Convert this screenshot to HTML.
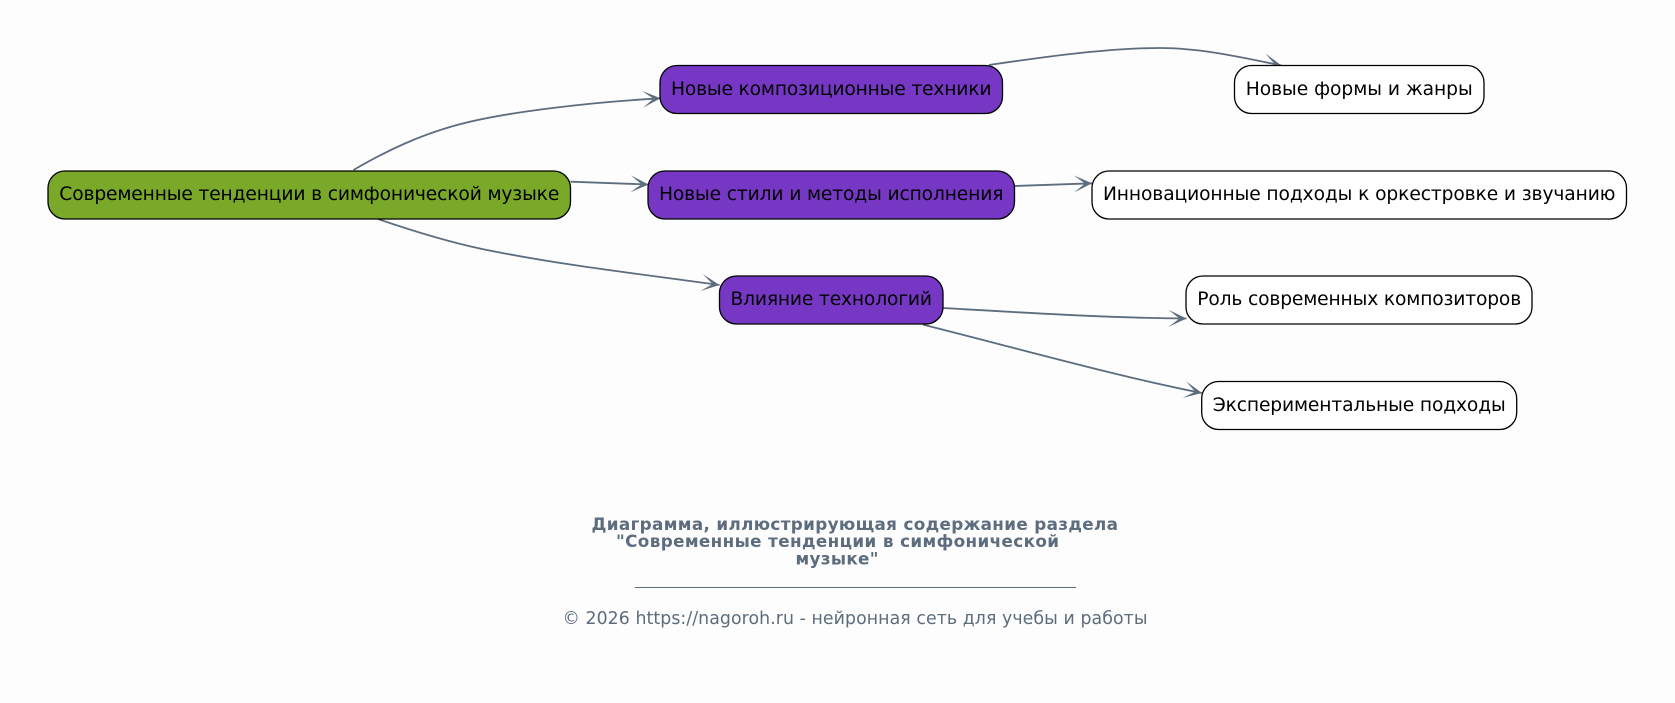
<!DOCTYPE html>
<html lang="ru">
<head>
<meta charset="utf-8">
<title>Современные тенденции в симфонической музыке</title>
<style>
html,body{margin:0;padding:0;background:#fdfdfd;width:1675px;height:703px;overflow:hidden}
svg{display:block}
text{font-family:"DejaVu Sans","Liberation Sans",sans-serif}
.n{font-size:18.67px;fill:#000;text-anchor:middle}
.e{fill:none;stroke:#5d6d7e;stroke-width:1.8}
.t{font-size:16.8px;font-weight:bold;fill:#5d6d7e}
.f{font-size:17.33px;fill:#5d6d7e}
</style>
</head>
<body>
<svg width="1675" height="703" viewBox="0 0 1675 703" xmlns="http://www.w3.org/2000/svg">
<defs>
<marker id="v" markerUnits="userSpaceOnUse" markerWidth="22" markerHeight="20" refX="18" refY="9" orient="auto">
<path d="M0 0.5 L18 9 L0 17.5 L11 9 Z" fill="#5d6d7e"/>
</marker>
</defs>
<rect width="1675" height="703" fill="#fdfdfd"/>

<path class="e" marker-end="url(#v)" d="M353.5 170 C388 150 420 135 457 125 C500 113 585 102.500 660.500 98.3"/>
<path class="e" marker-end="url(#v)" d="M570.5 181.700 L648.500 184.500"/>
<path class="e" marker-end="url(#v)" d="M378 219 C410 230 445 241 482 249 C560 265 640 274 719.500 285"/>
<path class="e" marker-end="url(#v)" d="M989 65 C1050 56 1110 48 1160 48 C1200 48 1240 57 1281.500 65.500"/>
<path class="e" marker-end="url(#v)" d="M1014.600 186 L1092 183.300"/>
<path class="e" marker-end="url(#v)" d="M943 308 C1030 313 1110 318 1186.500 318.500"/>
<path class="e" marker-end="url(#v)" d="M923 324.600 C1020 349 1120 377 1202 393"/>

<rect x="48" y="171" width="522.5" height="48" rx="17" fill="#7aa829" stroke="#000" stroke-width="1.3"/>
<text class="n" x="309.3" y="200" textLength="500">Современные тенденции в симфонической музыке</text>

<rect x="660" y="65.5" width="342.5" height="48" rx="17" fill="#7638c4" stroke="#000" stroke-width="1.3"/>
<text class="n" x="831.2" y="95" textLength="320.5">Новые композиционные техники</text>

<rect x="648" y="171" width="366.5" height="48" rx="17" fill="#7638c4" stroke="#000" stroke-width="1.3"/>
<text class="n" x="831.2" y="200" textLength="344.5">Новые стили и методы исполнения</text>

<rect x="719.5" y="276" width="223.5" height="48" rx="17" fill="#7638c4" stroke="#000" stroke-width="1.3"/>
<text class="n" x="831.2" y="305" textLength="201.5">Влияние технологий</text>

<rect x="1234.5" y="65.5" width="249.5" height="48" rx="17" fill="#fff" stroke="#000" stroke-width="1.3"/>
<text class="n" x="1359.2" y="95" textLength="227">Новые формы и жанры</text>

<rect x="1092" y="171" width="534.5" height="48" rx="17" fill="#fff" stroke="#000" stroke-width="1.3"/>
<text class="n" x="1359.2" y="200" textLength="512.5">Инновационные подходы к оркестровке и звучанию</text>

<rect x="1186" y="276" width="346" height="48" rx="17" fill="#fff" stroke="#000" stroke-width="1.3"/>
<text class="n" x="1359.2" y="305" textLength="324">Роль современных композиторов</text>

<rect x="1201.7" y="381.5" width="315" height="48" rx="17" fill="#fff" stroke="#000" stroke-width="1.3"/>
<text class="n" x="1359.2" y="411" textLength="293">Экспериментальные подходы</text>

<text class="t" x="591.5" y="530.2" textLength="526.5">Диаграмма, иллюстрирующая содержание раздела</text>
<text class="t" x="616" y="547" textLength="443">"Современные тенденции в симфонической</text>
<text class="t" x="795.5" y="564.5" textLength="83">музыке"</text>
<line x1="635" y1="587.5" x2="1076" y2="587.5" stroke="#5d6d7e" stroke-width="1"/>
<text class="f" x="562.5" y="624" textLength="585">© 2026 https://nagoroh.ru - нейронная сеть для учебы и работы</text>
</svg>
</body>
</html>
